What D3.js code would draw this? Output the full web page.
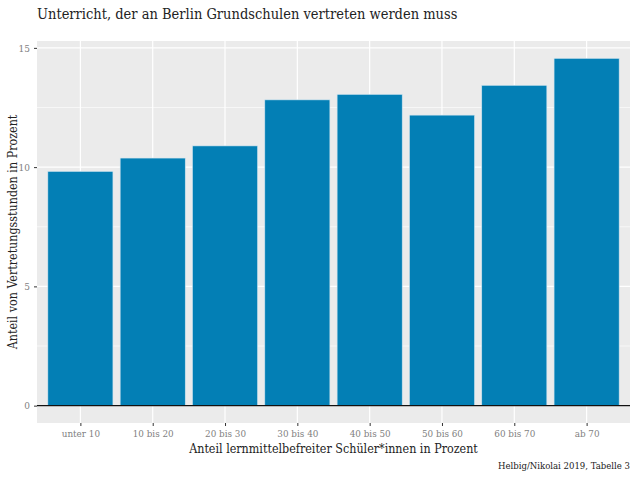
<!DOCTYPE html>
<html>
<head>
<meta charset="utf-8">
<script src="https://cdn.jsdelivr.net/npm/d3@7"></script>
<style>
  body { margin: 0; background: #fff; }
  text { font-family: "DejaVu Serif Condensed", "DejaVu Serif", serif; }
</style>
</head>
<body>
<div id="chart"></div>
<script>
// data
var categories = ["unter 10", "10 bis 20", "20 bis 30", "30 bis 40", "40 bis 50", "50 bis 60", "60 bis 70", "ab 70"];
var values = [9.82, 10.38, 10.89, 12.82, 13.05, 12.18, 13.43, 14.56];
var yTicks = [0, 5, 10, 15];
var yMinor = [2.5, 7.5, 12.5];

var W = 636, H = 477;
var panel = {left: 37, right: 630, top: 41, bottom: 423};

var svg = d3.select("#chart").append("svg")
    .attr("width", W)
    .attr("height", H);

// ggplot style expansion: 5% on continuous, 0.6 on discrete
var ymax = d3.max(values);
var y = d3.scaleLinear()
    .domain([-0.05 * ymax, ymax * 1.05])
    .range([panel.bottom, panel.top]);

var step = (panel.right - panel.left) / (categories.length - 1 + 1.2);
var x = d3.scalePoint()
    .domain(categories)
    .range([panel.left + 0.6 * step, panel.right - 0.6 * step]);

// panel background
svg.append("rect")
    .attr("x", panel.left).attr("y", panel.top)
    .attr("width", panel.right - panel.left)
    .attr("height", panel.bottom - panel.top)
    .attr("fill", "#ebebeb");

// minor grid
svg.selectAll(".minor").data(yMinor).enter().append("line")
    .attr("x1", panel.left).attr("x2", panel.right)
    .attr("y1", d => y(d)).attr("y2", d => y(d))
    .attr("stroke", "#fff").attr("stroke-width", 0.6);

// major grid
svg.selectAll(".major").data(yTicks).enter().append("line")
    .attr("x1", panel.left).attr("x2", panel.right)
    .attr("y1", d => y(d)).attr("y2", d => y(d))
    .attr("stroke", "#fff").attr("stroke-width", 1.2);

svg.selectAll(".vgrid").data(categories).enter().append("line")
    .attr("x1", d => x(d)).attr("x2", d => x(d))
    .attr("y1", panel.top).attr("y2", panel.bottom)
    .attr("stroke", "#fff").attr("stroke-width", 1.2);

// bars
var bw = step * 0.9;
svg.selectAll(".bar").data(values).enter().append("rect")
    .attr("x", (d, i) => x(categories[i]) - bw / 2)
    .attr("y", d => y(d))
    .attr("width", bw)
    .attr("height", d => y(0) - y(d))
    .attr("fill", "#037fb5")
    .attr("stroke", "#d0e4ef")
    .attr("stroke-width", 0.6);

// zero line
svg.append("line")
    .attr("x1", panel.left).attr("x2", panel.right)
    .attr("y1", y(0)).attr("y2", y(0))
    .attr("stroke", "#111").attr("stroke-width", 1.3);

// y axis
var yAxis = svg.append("g")
    .attr("transform", "translate(" + panel.left + ",0)")
    .call(d3.axisLeft(y).tickValues(yTicks).tickSize(3).tickPadding(4));
yAxis.select(".domain").remove();
yAxis.selectAll("line").attr("stroke", "#333");
yAxis.selectAll("text").attr("fill", "#7f7f7f").style("font-size", "10px");

// x axis
var xAxis = svg.append("g")
    .attr("transform", "translate(0," + panel.bottom + ")")
    .call(d3.axisBottom(x).tickSize(3).tickPadding(4));
xAxis.select(".domain").remove();
xAxis.selectAll("line").attr("stroke", "#333");
xAxis.selectAll("text").attr("fill", "#7f7f7f").style("font-size", "9.8px");

// title
svg.append("text")
    .attr("x", panel.left).attr("y", 19)
    .attr("fill", "#222")
    .style("font-size", "14.5px")
    .text("Unterricht, der an Berlin Grundschulen vertreten werden muss");

// axis titles
svg.append("text")
    .attr("x", (panel.left + panel.right) / 2).attr("y", 453)
    .attr("text-anchor", "middle")
    .attr("fill", "#222")
    .style("font-size", "12.4px")
    .text("Anteil lernmittelbefreiter Schüler*innen in Prozent");

svg.append("text")
    .attr("transform", "translate(17," + ((panel.top + panel.bottom) / 2) + ") rotate(-90)")
    .attr("text-anchor", "middle")
    .attr("fill", "#222")
    .style("font-size", "12.4px")
    .text("Anteil von Vertretungsstunden in Prozent");

// caption
svg.append("text")
    .attr("x", panel.right).attr("y", 469)
    .attr("text-anchor", "end")
    .attr("fill", "#222")
    .style("font-size", "9.5px")
    .text("Helbig/Nikolai 2019, Tabelle 3");
</script>
</body>
</html>
